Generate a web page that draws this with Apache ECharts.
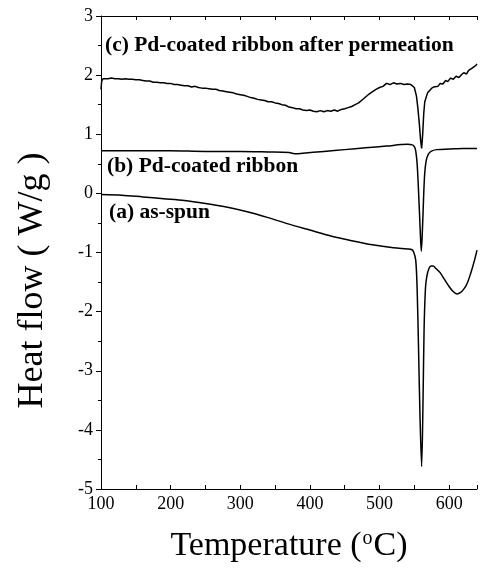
<!DOCTYPE html>
<html>
<head>
<meta charset="utf-8">
<script src="https://cdn.jsdelivr.net/npm/echarts@6/dist/echarts.min.js"></script>
<style>
  html, body { margin: 0; padding: 0; background: #fff; }
  #main { width: 480px; height: 569px; }
</style>
</head>
<body>
<div id="main"></div>
<script>
// (a) as-spun
const tempA = [100, 130, 160, 190, 220, 250, 280, 310, 340, 370, 400, 430, 460, 490, 520, 540, 546, 549, 552, 554, 556, 558, 560.5, 562.5, 564, 566, 568, 571, 574, 577, 581, 587, 593, 599, 605, 611, 616, 621, 626, 631, 636, 640];
const flowA = [-0.02, -0.03, -0.06, -0.09, -0.12, -0.17, -0.23, -0.31, -0.41, -0.52, -0.62, -0.72, -0.80, -0.87, -0.92, -0.94, -0.95, -0.99, -1.13, -1.6, -2.6, -3.7, -4.62, -3.5, -2.3, -1.6, -1.40, -1.27, -1.23, -1.23, -1.27, -1.34, -1.45, -1.56, -1.65, -1.70, -1.68, -1.62, -1.52, -1.35, -1.15, -0.96];

// (b) Pd-coated ribbon
const tempB = [100, 150, 200, 250, 300, 340, 370, 380, 390, 420, 450, 480, 510, 540, 547, 550, 552, 554, 556, 558, 560, 562, 563.5, 565, 567, 570, 574, 582, 600, 620, 640];
const flowB = [0.72, 0.72, 0.72, 0.71, 0.71, 0.70, 0.69, 0.67, 0.68, 0.71, 0.74, 0.77, 0.80, 0.83, 0.82, 0.79, 0.72, 0.5, 0.05, -0.5, -0.98, -0.5, 0.0, 0.35, 0.55, 0.66, 0.71, 0.74, 0.75, 0.76, 0.76];

// (c) Pd-coated ribbon after permeation
const tempC = [100, 101, 103, 105, 110, 115, 120, 125, 130, 135, 140, 145, 150, 155, 160, 165, 170, 175, 180, 185, 190, 195, 200,
  205, 210, 215, 220, 225, 230, 235, 240, 245, 250, 255, 260, 265, 270, 275, 280, 285, 290, 295, 300,
  305, 310, 315, 320, 325, 330, 335, 340, 345, 350, 355, 360, 365, 370, 375, 380, 385, 390, 395, 400,
  405, 410, 415, 420, 425, 430, 435, 440, 445, 450, 455, 460, 465, 470, 475, 480, 485, 490, 495, 500,
  505, 510, 515, 520, 525, 530, 535, 540, 545, 550, 553, 555, 557, 559, 560.5, 562, 563.5, 565, 569,
  572, 575, 578, 580, 584, 587, 591, 595, 598, 602, 606, 610, 614, 618, 621, 625, 628, 630, 633, 635, 638, 640];
const flowC = [1.76, 1.90, 1.94, 1.94, 1.94, 1.95, 1.94, 1.94, 1.93, 1.94, 1.93, 1.93, 1.92, 1.92, 1.91, 1.90, 1.90, 1.88, 1.88, 1.87, 1.87, 1.86, 1.86,
  1.84, 1.84, 1.83, 1.82, 1.82, 1.80, 1.81, 1.79, 1.78, 1.78, 1.77, 1.76, 1.76, 1.74, 1.73, 1.72, 1.71, 1.70, 1.68, 1.67,
  1.66, 1.64, 1.62, 1.61, 1.59, 1.58, 1.57, 1.55, 1.55, 1.53, 1.52, 1.50, 1.49, 1.46, 1.45, 1.43, 1.43, 1.41, 1.40, 1.41,
  1.39, 1.38, 1.40, 1.38, 1.40, 1.39, 1.41, 1.39, 1.42, 1.43, 1.45, 1.47, 1.50, 1.53, 1.58, 1.63, 1.68, 1.72, 1.76, 1.79,
  1.81, 1.86, 1.84, 1.87, 1.85, 1.86, 1.84, 1.85, 1.84, 1.79, 1.65, 1.45, 1.2, 0.9, 0.76, 1.0, 1.35, 1.55, 1.70,
  1.74, 1.78, 1.80, 1.83, 1.81, 1.86, 1.85, 1.91, 1.89, 1.95, 1.93, 1.98, 1.96, 2.01, 2.04, 2.02, 2.08, 2.06, 2.12, 2.11, 2.16, 2.19];

const curveLabels = ['(c) Pd-coated ribbon after permeation', '(b) Pd-coated ribbon', '(a) as-spun'];

const FONT = "'Liberation Serif', 'Times New Roman', serif";

function zip(xs, ys) {
  return xs.map((x, i) => [x, ys[i]]);
}

function xAxisDef(pos, showLabels) {
  return {
    type: 'value',
    position: pos,
    min: 100,
    max: 640,
    interval: 50,
    splitLine: { show: false },
    axisLine: { show: true, onZero: false, lineStyle: { color: '#000', width: 1 } },
    axisTick: { show: true, inside: true, length: 4, lineStyle: { color: '#000' } },
    axisLabel: {
      show: showLabels,
      margin: 6,
      color: '#000',
      fontFamily: FONT,
      fontSize: 18,
      formatter: v => (v % 100 === 0 ? String(v) : '')
    }
  };
}

const chart = echarts.init(document.getElementById('main'));

const bottomAxis = xAxisDef('bottom', true);
bottomAxis.name = '{t|Temperature (}{s|o}{t|C)}';
bottomAxis.nameLocation = 'middle';
bottomAxis.nameGap = 40;
bottomAxis.nameTextStyle = {
  rich: {
    t: { fontFamily: FONT, fontSize: 34, color: '#000' },
    s: { fontFamily: FONT, fontSize: 20, color: '#000', verticalAlign: 'top', padding: [0, 1, 12, 1] }
  }
};

const lineStyle = { color: '#000', width: 1.5 };

chart.setOption({
  animation: false,
  backgroundColor: '#fff',
  grid: { left: 101, right: 0, top: 16, bottom: 80 },
  xAxis: [bottomAxis, xAxisDef('top', false)],
  yAxis: {
    type: 'value',
    min: -5,
    max: 3,
    interval: 1,
    splitLine: { show: false },
    axisLine: { show: true, onZero: false, lineStyle: { color: '#000', width: 1 } },
    axisTick: { show: true, length: 5, lineStyle: { color: '#000' } },
    minorTick: { show: true, splitNumber: 2, length: 3, lineStyle: { color: '#000' } },
    axisLabel: { margin: 8, color: '#000', fontFamily: FONT, fontSize: 18 },
    name: 'Heat flow ( W/g )',
    nameLocation: 'middle',
    nameGap: 50,
    nameTextStyle: { fontFamily: FONT, fontSize: 36, color: '#000', padding: [0, 56, 0, 0] }
  },
  graphic: [
    { type: 'text', left: 105, top: 34, style: { text: curveLabels[0], font: 'bold 21.5px ' + FONT, fill: '#000' } },
    { type: 'text', left: 107, top: 155, style: { text: curveLabels[1], font: 'bold 21.5px ' + FONT, fill: '#000' } },
    { type: 'text', left: 109, top: 201, style: { text: curveLabels[2], font: 'bold 21.5px ' + FONT, fill: '#000' } }
  ],
  series: [
    { name: 'a', type: 'line', data: zip(tempA, flowA), showSymbol: false, smooth: 0.3, lineStyle },
    { name: 'b', type: 'line', data: zip(tempB, flowB), showSymbol: false, smooth: 0.3, lineStyle },
    { name: 'c', type: 'line', data: zip(tempC, flowC), showSymbol: false, lineStyle }
  ]
});
</script>
</body>
</html>
